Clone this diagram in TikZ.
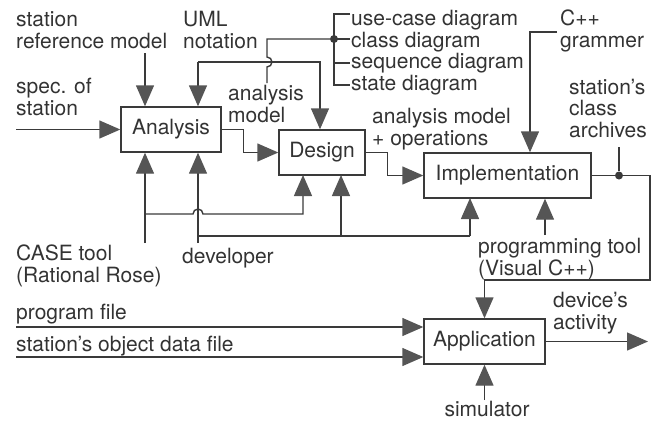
\documentclass[tikz,border=0pt]{standalone}
\usepackage{fontspec}
\setmainfont{TeX Gyre Heros}
\usepackage{tikz}
\usetikzlibrary{arrows.meta}
\definecolor{linea}{HTML}{3A3A3A}
\definecolor{cabeza}{HTML}{555555}
\definecolor{texto}{HTML}{333333}

\begin{document}
\begin{tikzpicture}[x=1pt, y=-1pt,
    caja/.style={draw=linea, line width=1.4pt, fill=white, inner sep=0pt,
      minimum height=45pt, font=\fontsize{21}{21.5}\selectfont, text=texto},
    txt/.style={inner sep=0pt, anchor=base west, align=left,
      font=\fontsize{21}{21.5}\selectfont, text=texto},
    flujo/.style={draw=linea, line width=1.4pt,
      -{Triangle[length=21pt, width=18pt, color=cabeza]}},
    linea/.style={draw=linea, line width=1.4pt},
    punto/.style={circle, fill=linea, inner sep=0pt, minimum size=8pt}]
    \useasboundingbox (0,0) rectangle (661,421);

    % Cajas de actividades
    \node[caja, minimum width=100pt] (ana) at (171,129.5) {Analysis};
    \node[caja, minimum width=86pt] (des) at (322,152.5) {Design};
    \node[caja, minimum width=167pt] (imp) at (507.5,175.5) {Implementation};
    \node[caja, minimum width=121pt] (app) at (484.5,341.5) {Application};

    % Textos de entradas y salidas (base = ultima linea)
    \node[txt] (refm) at (16,48) {station\\reference model};
    \node[txt] (uml) at (183,48) {UML\\notation};
    \node[txt] (spec) at (16,115) {spec. of\\station};
    \node[txt] (anm) at (228,122) {analysis\\model};
    \node[txt] (d1) at (351,25) {use-case diagram};
    \node[txt] (d2) at (351,47) {class diagram};
    \node[txt] (d3) at (351,68) {sequence diagram};
    \node[txt] (d4) at (351,90) {state diagram};
    \node[txt] (cpp) at (560,47) {C++\\grammer};
    \node[txt] (amo) at (372,145) {analysis model\\+ operations};
    \node[txt] (arch) at (569,137) {station's\\class\\archives};
    \node[txt] (case) at (16,282) {CASE tool\\(Rational Rose)};
    \node[txt] (dev) at (182,263) {developer};
    \node[txt] (prog) at (478,275) {programming tool\\(Visual C++)};
    \node[txt] (pfile) at (16,319) {program file};
    \node[txt] (sfile) at (16,351) {station's object data file};
    \node[txt] (act) at (553,329) {device's\\activity};
    \node[txt, anchor=base] (sim) at (487,416) {simulator};

    % Puntos de union
    \node[punto] (pd) at (334,39) {};
    \node[punto] (pa) at (619,175.5) {};

    % Coordenadas auxiliares
    \coordinate (refE) at (145,53);
    \coordinate (umlC) at (198,62);
    \coordinate (umlD) at (320,62);
    \coordinate (specE) at (16,129.5);
    \coordinate (cppE) at (557,32);
    \coordinate (cppC) at (530,32);
    \coordinate (archT) at (619,147);
    \coordinate (lazo) at (650,280);
    \coordinate (caseB) at (145,243);
    \coordinate (devB) at (198,243);
    \coordinate (progB) at (545,235);
    \coordinate (pfE) at (16,327);
    \coordinate (sfE) at (16,357);
    \coordinate (actE) at (648,341.5);
    \coordinate (simB) at (484.5,400);

    % Corchete de diagramas
    \draw[linea] (350,14) -- (334,14) -- (334,85) -- (350,85);
    \draw[linea] (334,39) -- (350,39);
    \draw[linea] (334,63) -- (350,63);
    \draw[linea] (pd) -- (267,39) -- (267,57)
      arc[start angle=-90, end angle=90, radius=5] -- (267,83);

    % Entradas de Analysis
    \draw[flujo] (specE) -- (ana.west);
    \draw[flujo] (refE) -- (refE |- ana.north);
    \draw[flujo] (umlC) -- (umlC |- ana.north);
    \draw[flujo] (umlC) -- (umlD) -- (umlD |- des.north);
    \draw[flujo] (caseB) -- (caseB |- ana.south);
    \draw[flujo] (devB) -- (devB |- ana.south);

    % Mecanismos hacia Design e Implementation
    \draw[flujo] (145,214) -- (193,214)
      arc[start angle=180, end angle=360, radius=5] -- (303,214) -- (303,175);
    \draw[linea] (198,236) -- (470,236);
    \draw[flujo] (341,236) -- (341,175);
    \draw[flujo] (470,236) -- (470,198);
    \draw[flujo] (progB) -- (progB |- imp.south);

    % Flujo principal
    \draw[flujo] (ana.east) -- ++(22,0) |- (des.west);
    \draw[flujo] (des.east) -- ++(22,0) |- (imp.west);
    \draw[flujo] (cppE) -- (cppC) -- (cppC |- imp.north);
    \draw[linea] (archT) -- (pa);
    \draw[flujo] (imp.east) -| (lazo) -| (app.north);

    % Entradas y salida de Application
    \draw[flujo] (pfE) -- (pfE -| app.west);
    \draw[flujo] (sfE) -- (sfE -| app.west);
    \draw[flujo] (app.east) -- (actE);
    \draw[flujo] (simB) -- (app.south);
\end{tikzpicture}
\end{document}
